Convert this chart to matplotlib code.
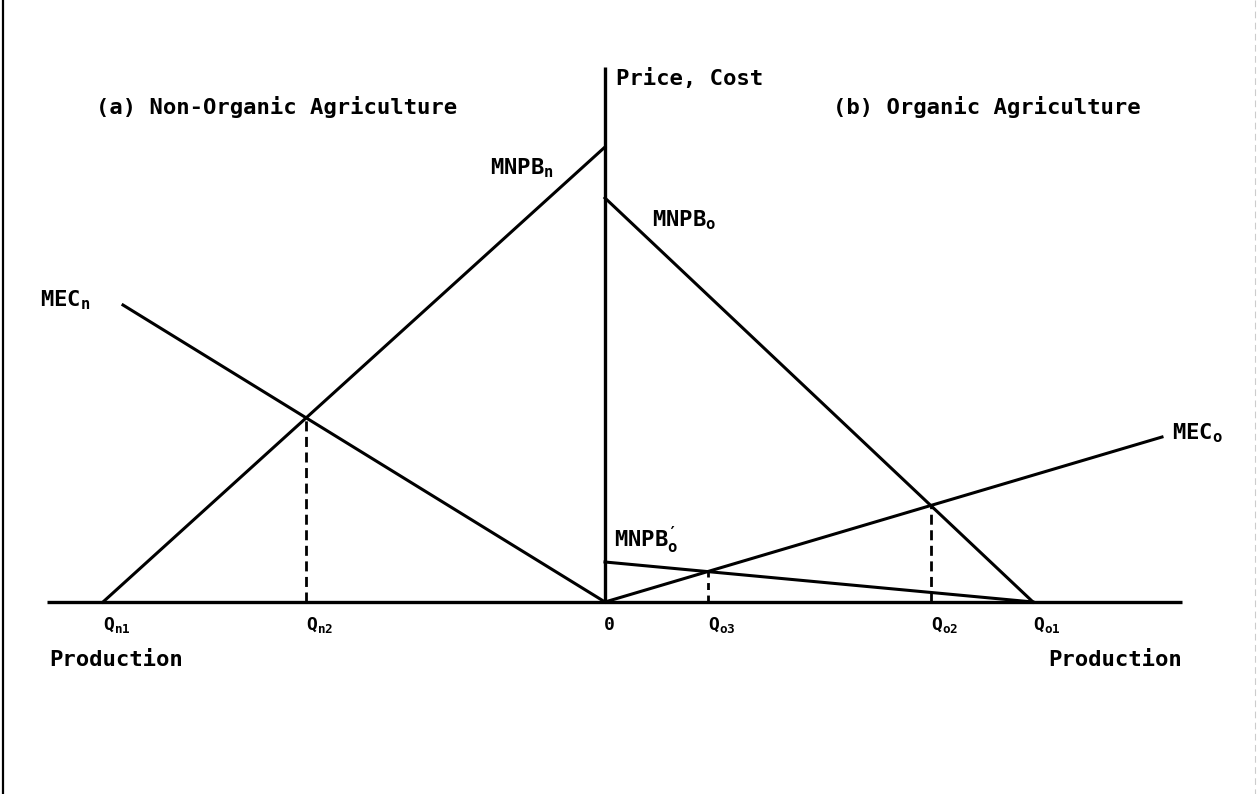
import numpy as np
import matplotlib
matplotlib.use("Agg")
import matplotlib.pyplot as plt

# ---- data (quantity to the right of origin positive, left = non-organic) ----
# Non-organic panel (quantities drawn to the left of origin, negative x)
q_n1 = -502.0            # MNPB_n reaches zero at Q_n1
mnpb_n_max = 455.0       # MNPB_n intercept on price axis
mec_n_q = [0.0, -482.0]  # MEC_n from origin out to the left
mec_n_p = [0.0, 297.0]

# Organic panel
q_o1 = 428.0             # MNPB_o and MNPB'_o reach zero at Q_o1
mnpb_o_max = 404.0       # MNPB_o intercept
mnpb_o_prime_max = 40.0  # MNPB'_o intercept
mec_o_q = [0.0, 557.0]
mec_o_p = [0.0, 165.0]

axis_left, axis_right, axis_top = -558.0, 577.0, 535.0

# ---- derived intersections ----
def intersect(p1, p2, p3, p4):
    (x1, y1), (x2, y2), (x3, y3), (x4, y4) = p1, p2, p3, p4
    a1, b1 = np.polyfit([x1, x2], [y1, y2], 1)
    a2, b2 = np.polyfit([x3, x4], [y3, y4], 1)
    x = (b2 - b1) / (a1 - a2)
    return x, a1 * x + b1

q_n2 = intersect((q_n1, 0), (0, mnpb_n_max), (mec_n_q[0], mec_n_p[0]), (mec_n_q[1], mec_n_p[1]))
q_o2 = intersect((0, mnpb_o_max), (q_o1, 0), (mec_o_q[0], mec_o_p[0]), (mec_o_q[1], mec_o_p[1]))
q_o3 = intersect((0, mnpb_o_prime_max), (q_o1, 0), (mec_o_q[0], mec_o_p[0]), (mec_o_q[1], mec_o_p[1]))

# ---- styling ----
plt.rcParams['font.family'] = ['DejaVu Sans Mono', 'DejaVu Sans']
plt.rcParams['font.weight'] = 'bold'
plt.rcParams['mathtext.fontset'] = 'custom'
plt.rcParams['mathtext.rm'] = 'DejaVu Sans Mono:bold'
plt.rcParams['mathtext.it'] = 'DejaVu Sans Mono:bold'
plt.rcParams['mathtext.bf'] = 'DejaVu Sans Mono:bold'
plt.rcParams['mathtext.default'] = 'rm'

W, H = 1257, 794
OX, OY = 605, 602
fig = plt.figure(figsize=(W / 100, H / 100), dpi=100)
ax = fig.add_axes([0, 0, 1, 1])
ax.set_xlim(-OX, W - OX)
ax.set_ylim(-(H - OY), OY)
ax.axis('off')

def P(x, y):
    return x - OX, OY - y

lw = 2.2
k = 'black'
# axes
ax.plot([axis_left, axis_right], [0, 0], color=k, lw=2.4, solid_capstyle='butt')
ax.plot([0, 0], [0, axis_top], color=k, lw=2.4, solid_capstyle='butt')

# curves
ax.plot([q_n1, 0], [0, mnpb_n_max], color=k, lw=lw)
ax.plot(mec_n_q, mec_n_p, color=k, lw=lw)
ax.plot([0, q_o1], [mnpb_o_max, 0], color=k, lw=lw)
ax.plot([0, q_o1], [mnpb_o_prime_max, 0], color=k, lw=lw)
ax.plot(mec_o_q, mec_o_p, color=k, lw=lw)

# dashed drop lines
for (qx, qy), dash in [(q_n2, (3.6, 2.0)), (q_o2, (3.6, 2.0)), (q_o3, (2.5, 2.0))]:
    ax.plot([qx, qx], [0, qy], color=k, lw=2.0, dashes=dash)

fs = 16
def T(x, y, s, ha='left', size=fs):
    X, Y = P(x, y)
    ax.text(X, Y, s, ha=ha, va='center', fontsize=size, color=k, fontweight='bold')

# titles
T(96, 107, "(a) Non-Organic Agriculture")
T(616, 78, "Price, Cost")
T(833, 107, "(b) Organic Agriculture")

# curve labels
T(490, 168, r"MNPB$_n$")
T(652, 220, r"MNPB$_o$")
T(40, 300, r"MEC$_n$")
T(1172, 433, r"MEC$_o$")
T(614, 540, r"MNPB$^{\prime}_{o}$")

# axis labels
qs = 13
T(OX + q_n1, 625, r"Q$_{n1}$", size=qs)
T(OX + q_n2[0], 625, r"Q$_{n2}$", size=qs)
T(604, 625, "0", size=qs)
T(OX + q_o3[0], 625, r"Q$_{o3}$", size=qs)
T(OX + q_o2[0], 625, r"Q$_{o2}$", size=qs)
T(OX + q_o1, 625, r"Q$_{o1}$", size=qs)

T(49, 660, "Production")
T(1182, 660, "Production", ha='right')

# scan frame edges
ax.plot(*zip(P(3, 0), P(3, 794)), color=k, lw=1.6)
ax.plot(*zip(P(1255, 0), P(1255, 794)), color='#cccccc', lw=0.8, dashes=(6, 4))

fig.savefig("out.png", dpi=100, facecolor='white')
